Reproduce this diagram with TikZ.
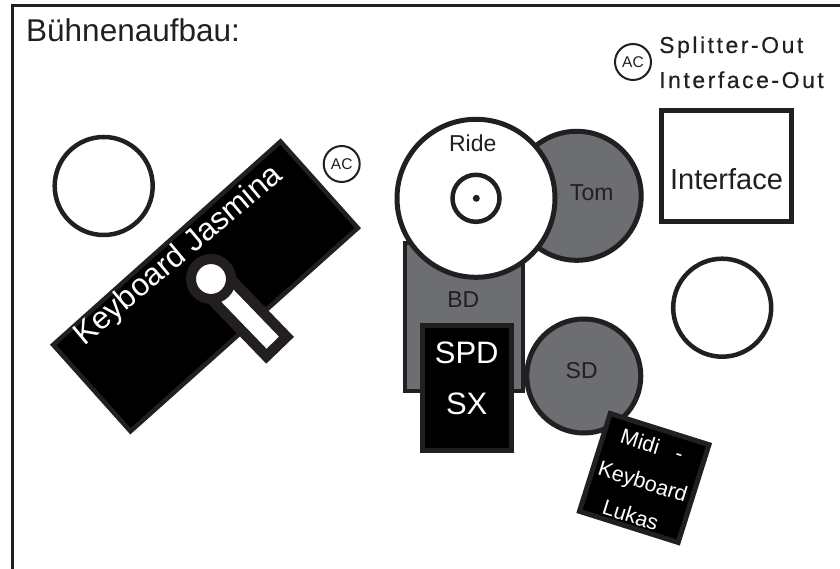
\documentclass[tikz,border=0pt]{standalone}
\usepackage{fontspec}
\setmainfont{Liberation Sans}
\newfontfamily\trackfont[LetterSpace=11, FakeBold=0.4]{Liberation Sans}
\definecolor{inkdark}{HTML}{231F20}
\definecolor{drumgray}{HTML}{6D6E71}
\tikzset{
    drum/.style={draw=inkdark, circle, fill=drumgray, line width=5pt, inner sep=0pt, outer sep=0pt},
    stand/.style={draw=inkdark, circle, fill=white, line width=4.5pt, inner sep=0pt, outer sep=0pt},
    acbox/.style={draw=inkdark, circle, fill=white, line width=2pt, inner sep=0pt, outer sep=0pt, minimum size=36pt, text=inkdark, font=\fontsize{15.5}{16}\selectfont},
    blackbox/.style={draw=inkdark, rectangle, fill=black, line width=5pt, inner sep=0pt, outer sep=0pt},
    label/.style={text=inkdark, inner sep=0pt, font=\fontsize{23}{25}\selectfont},
    whitelabel/.style={text=white, inner sep=0pt}
}
\begin{document}
\begin{tikzpicture}[x=1pt, y=-1pt]
    \useasboundingbox (0,0) rectangle (840,569);
    \coordinate (frameA) at (12.3,569);
    \coordinate (frameB) at (12.3,5.3);
    \coordinate (frameC) at (840,5.3);
    \draw[inkdark, line width=2.8pt] (frameA) -- (frameB) -- (frameC);
    \node[anchor=base west, inner sep=0pt, text=inkdark, font=\fontsize{31.5}{33}\selectfont] (title) at (26,41.7) {Bühnenaufbau:};

    % Keyboard links
    \node[stand, minimum size=98pt] (standleft) at (103.7,186) {};
    \node[acbox] (acleft) at (341.7,164) {AC};
    \node[blackbox, line width=4.5pt, minimum width=305pt, minimum height=116pt, rotate=41.8] (jasmina) at (205.5,286.4) {};
    \node[whitelabel, rotate=40, font=\fontsize{31.5}{34}\selectfont] (jasminatext) at (179,256) {Keyboard Jasmina};
    \node[draw=inkdark, rectangle, fill=white, line width=10.5pt, inner sep=0pt, outer sep=0pt, minimum width=94pt, minimum height=28pt, rotate=-46] (pedal) at (243.8,312.7) {};
    \node[draw=inkdark, circle, fill=white, line width=10pt, inner sep=0pt, outer sep=0pt, minimum size=40pt] (pedalhead) at (211,279) {};

    % Schlagzeug
    \node[drum, minimum size=129pt] (tom) at (576.7,195.8) {};
    \node[label] (tomtext) at (591.7,193) {Tom};
    \node[draw=inkdark, rectangle, fill=drumgray, line width=4.5pt, inner sep=0pt, outer sep=0pt, minimum width=117.7pt, minimum height=148pt] (bd) at (463.9,317) {};
    \node[label] (bdtext) at (463.3,300) {BD};
    \node[stand, line width=5pt, minimum size=158pt] (ride) at (476,198.3) {};
    \node[label] (ridetext) at (472.7,143.3) {Ride};
    \node[stand, minimum size=47pt] (bell) at (476,198.3) {};
    \node[circle, fill=inkdark, inner sep=0pt, minimum size=7pt] (bellcenter) at (476.3,198.3) {};
    \node[drum, minimum size=114pt] (sd) at (583.8,376) {};
    \node[label] (sdtext) at (581.7,370.7) {SD};
    \node[blackbox, minimum width=89.5pt, minimum height=125pt] (spd) at (467.2,387.5) {};
    \node[whitelabel, font=\fontsize{31}{33}\selectfont] (spdtext) at (466.7,353.3) {SPD};
    \node[whitelabel, font=\fontsize{31}{33}\selectfont] (sxtext) at (466.7,404.3) {SX};

    % Midi-Keyboard
    \node[blackbox, minimum width=103.5pt, minimum height=102.5pt, rotate=-17.5] (midi) at (644.2,478) {};
    \node[whitelabel, rotate=-17.5, font=\fontsize{21.5}{23}\selectfont] (miditext) at (652.3,445) {Midi\ \ \ -};
    \node[whitelabel, rotate=-17.5, font=\fontsize{21.5}{23}\selectfont] (keyboardtext) at (642.3,483.3) {Keyboard};
    \node[whitelabel, rotate=-17.5, font=\fontsize{21.5}{23}\selectfont] (lukastext) at (630.7,515) {Lukas};

    % Rechts
    \node[acbox] (acright) at (633,62) {AC};
    \node[anchor=base west, inner sep=0pt, text=inkdark, font=\trackfont\fontsize{23}{25}\selectfont] (splitter) at (659,53) {Splitter-Out};
    \node[anchor=base west, inner sep=0pt, text=inkdark, font=\trackfont\fontsize{23}{25}\selectfont] (interfaceout) at (659,88) {Interface-Out};
    \node[draw=inkdark, rectangle, fill=white, line width=5pt, inner sep=0pt, outer sep=0pt, minimum width=130pt, minimum height=111pt] (interface) at (726.5,166) {};
    \node[text=inkdark, inner sep=0pt, font=\fontsize{29}{31}\selectfont] (interfacetext) at (726.5,179) {Interface};
    \node[stand, minimum size=98pt] (standright) at (722.2,307.7) {};
\end{tikzpicture}
\end{document}
